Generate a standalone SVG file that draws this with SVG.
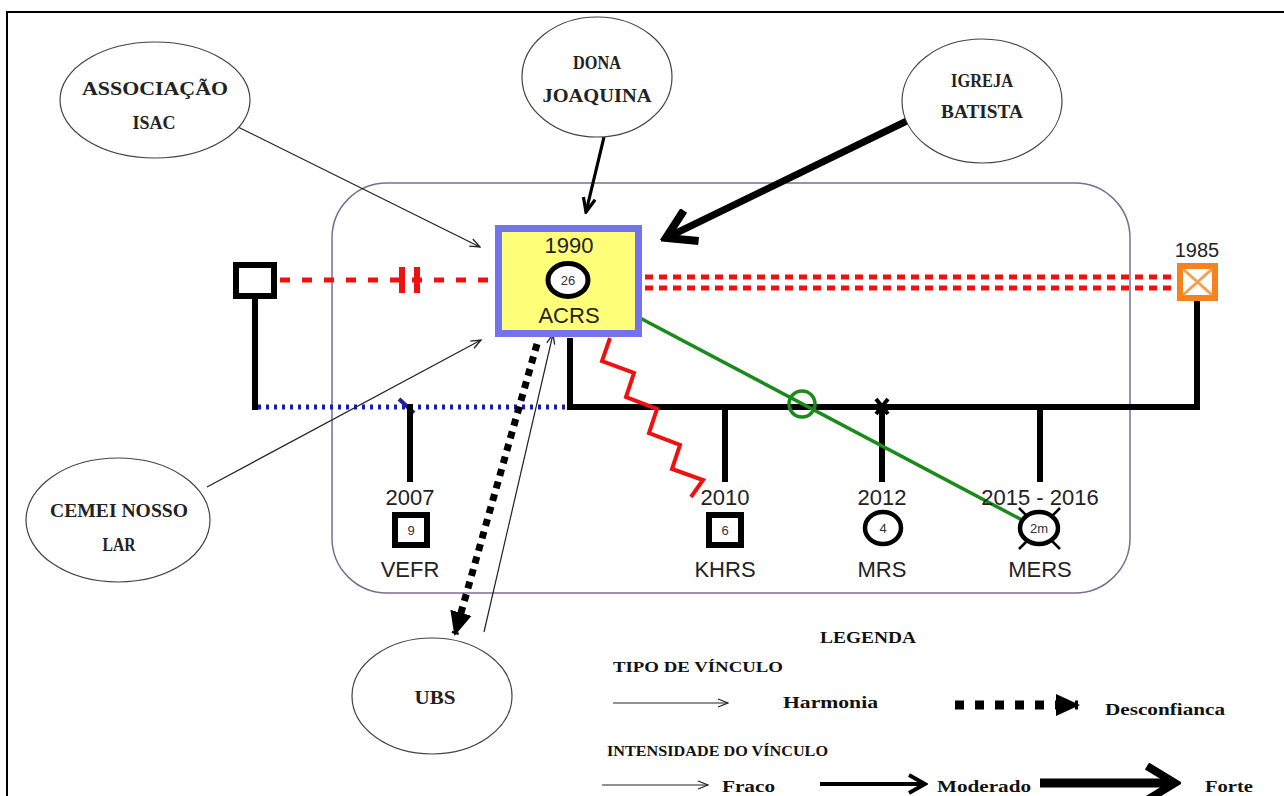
<svg xmlns="http://www.w3.org/2000/svg" width="1284" height="796" viewBox="0 0 1284 796">
<defs>
<style>
.ell{fill:#fff;stroke:#444;stroke-width:1.2}
.et{font-family:"Liberation Serif",serif;font-weight:bold;font-size:19px;fill:#222;text-anchor:middle}
.lt{font-family:"Liberation Serif",serif;font-weight:bold;font-size:17px;fill:#111}
.st{font-family:"Liberation Sans",sans-serif;font-size:22px;fill:#222;text-anchor:middle}
.sm{font-family:"Liberation Sans",sans-serif;font-size:13px;fill:#333;text-anchor:middle}
.blk{stroke:#000;stroke-width:6;fill:none}
.thin{stroke:#222;stroke-width:1.2;fill:none}
</style>
<marker id="chevThin" viewBox="0 0 12 10" refX="11" refY="5" markerWidth="12" markerHeight="10" markerUnits="userSpaceOnUse" orient="auto"><path d="M1,1 L11,5 L1,9" fill="none" stroke="#222" stroke-width="1.3"/></marker>
<marker id="chevMed" viewBox="0 0 18 16" refX="16" refY="8" markerWidth="18" markerHeight="16" markerUnits="userSpaceOnUse" orient="auto"><path d="M2,2 L16,8 L2,14" fill="none" stroke="#000" stroke-width="3.2"/></marker>
<marker id="chevLeg" viewBox="0 0 22 22" refX="19" refY="11" markerWidth="22" markerHeight="22" markerUnits="userSpaceOnUse" orient="auto"><path d="M3,2 L19,11 L3,20" fill="none" stroke="#000" stroke-width="4"/></marker>
<marker id="chevBig" viewBox="0 0 40 40" refX="34" refY="20" markerWidth="40" markerHeight="40" markerUnits="userSpaceOnUse" orient="auto"><path d="M6,3 L34,20 L6,37" fill="none" stroke="#000" stroke-width="8"/></marker>
<marker id="tri" viewBox="0 0 24 24" refX="22" refY="12" markerWidth="24" markerHeight="24" markerUnits="userSpaceOnUse" orient="auto"><path d="M0,1 L24,12 L0,23 Z" fill="#000"/></marker>
</defs>
<rect width="1284" height="796" fill="#fff"/>
<path d="M7,796 V12 H1284" fill="none" stroke="#000" stroke-width="2"/>

<g id="family-frame">
<rect x="332" y="183" width="798" height="410" rx="55" ry="55" fill="none" stroke="#7a6e96" stroke-width="1.5"/>
</g>

<g id="connectors">
<line x1="280" y1="280" x2="495" y2="280" stroke="#ee1111" stroke-width="5" stroke-dasharray="10 12"/>
<rect x="399" y="267" width="6" height="26" fill="#ee1111"/>
<rect x="414" y="267" width="6" height="26" fill="#ee1111"/>
<line x1="645" y1="277" x2="1177" y2="277" stroke="#ee1111" stroke-width="5" stroke-dasharray="8 6"/>
<line x1="645" y1="288" x2="1177" y2="288" stroke="#ee1111" stroke-width="5" stroke-dasharray="8 6"/>
<line x1="255" y1="298" x2="255" y2="410" class="blk"/>
<line x1="258" y1="407" x2="568" y2="407" stroke="#1c1ca8" stroke-width="5" stroke-dasharray="3 5"/>
<line x1="399" y1="399" x2="414" y2="413" stroke="#1c1ca8" stroke-width="4"/>
<path d="M570,338 V407 H1197 V300" class="blk"/>
<line x1="410" y1="404" x2="410" y2="482" class="blk"/>
<line x1="725" y1="404" x2="725" y2="482" class="blk"/>
<line x1="882" y1="404" x2="882" y2="482" class="blk"/>
<line x1="1040" y1="404" x2="1040" y2="482" class="blk"/>
<path d="M876,399 L888,414 M888,399 L876,414" stroke="#000" stroke-width="4"/>
<polyline points="610,338 602,361 634,373 626,397 657,409 649,433 680,445 672,469 703,480 691,497" fill="none" stroke="#ee1111" stroke-width="4"/>
<line x1="640" y1="318" x2="1022" y2="520" stroke="#1a8a1a" stroke-width="3.5"/>
<circle cx="802" cy="404" r="13" fill="none" stroke="#1a8a1a" stroke-width="3.5"/>
<line x1="238" y1="127" x2="480" y2="247" class="thin" marker-end="url(#chevThin)"/>
<line x1="604" y1="137" x2="586" y2="212" stroke="#000" stroke-width="3.2" marker-end="url(#chevMed)"/>
<line x1="915" y1="117" x2="666" y2="238" stroke="#000" stroke-width="7" marker-end="url(#chevBig)"/>
<line x1="207" y1="487" x2="481" y2="340" class="thin" marker-end="url(#chevThin)"/>
<line x1="537" y1="344" x2="455" y2="634" stroke="#000" stroke-width="7" stroke-dasharray="7 6" marker-end="url(#tri)"/>
<line x1="484" y1="632" x2="553" y2="334" class="thin" marker-end="url(#chevThin)"/>
</g>

<g id="node-left-square">
<rect x="236" y="265" width="38" height="31" fill="#fff" stroke="#000" stroke-width="6"/>
</g>

<g id="node-acrs">
<rect x="498.5" y="228.5" width="140" height="105" fill="#ffff7a" stroke="#7373ee" stroke-width="7"/>
<text x="569" y="253" class="st">1990</text>
<ellipse cx="568" cy="280" rx="20" ry="16.5" fill="#fff" stroke="#000" stroke-width="5"/>
<text x="568" y="285" class="sm">26</text>
<text x="569" y="323" class="st">ACRS</text>
</g>

<g id="node-1985">
<text x="1197" y="257" class="st" style="font-size:20px">1985</text>
<rect x="1180" y="266" width="35" height="32" fill="#fff" stroke="#f5821f" stroke-width="6"/>
<path d="M1183,269 L1212,295 M1212,269 L1183,295" stroke="#f5a050" stroke-width="3"/>
</g>

<g id="node-vefr">
<text x="410" y="505" class="st">2007</text>
<rect x="395" y="515" width="32" height="30" fill="#fff" stroke="#000" stroke-width="6"/>
<text x="411" y="535" class="sm">9</text>
<text x="410" y="577" class="st">VEFR</text>
</g>

<g id="node-khrs">
<text x="725" y="505" class="st">2010</text>
<rect x="709" y="515" width="32" height="30" fill="#fff" stroke="#000" stroke-width="6"/>
<text x="725" y="535" class="sm">6</text>
<text x="725" y="577" class="st">KHRS</text>
</g>

<g id="node-mrs">
<text x="882" y="505" class="st">2012</text>
<ellipse cx="883" cy="528" rx="18" ry="16" fill="#fff" stroke="#000" stroke-width="4.5"/>
<text x="883" y="533" class="sm">4</text>
<text x="882" y="577" class="st">MRS</text>
</g>

<g id="node-mers">
<text x="1040" y="505" class="st">2015 - 2016</text>
<path d="M1019,508 L1060,549 M1060,508 L1019,549" stroke="#000" stroke-width="2.5"/>
<ellipse cx="1039" cy="528" rx="19" ry="16" fill="#fff" stroke="#000" stroke-width="4.5"/>
<text x="1039" y="533" class="sm">2m</text>
<text x="1040" y="577" class="st">MERS</text>
</g>

<g id="node-isac">
<ellipse cx="155" cy="100" rx="95" ry="58" class="ell"/>
<text x="155" y="95" class="et" textLength="146" lengthAdjust="spacingAndGlyphs">ASSOCIAÇÃO</text>
<text x="154" y="129" class="et" textLength="43" lengthAdjust="spacingAndGlyphs">ISAC</text>
</g>

<g id="node-dona">
<ellipse cx="597" cy="77" rx="75" ry="60" class="ell"/>
<text x="597" y="69" class="et" textLength="48" lengthAdjust="spacingAndGlyphs">DONA</text>
<text x="597" y="102" class="et" textLength="109" lengthAdjust="spacingAndGlyphs">JOAQUINA</text>
</g>

<g id="node-igreja">
<ellipse cx="982" cy="101" rx="80" ry="62" class="ell"/>
<text x="982" y="87" class="et" textLength="62" lengthAdjust="spacingAndGlyphs">IGREJA</text>
<text x="982" y="118" class="et" textLength="82" lengthAdjust="spacingAndGlyphs">BATISTA</text>
</g>

<g id="node-cemei">
<ellipse cx="118" cy="520" rx="92" ry="62" class="ell"/>
<text x="119" y="517" class="et" textLength="138" lengthAdjust="spacingAndGlyphs">CEMEI NOSSO</text>
<text x="119" y="551" class="et" textLength="33" lengthAdjust="spacingAndGlyphs">LAR</text>
</g>

<g id="node-ubs">
<ellipse cx="432" cy="696" rx="80" ry="58" class="ell"/>
<text x="435" y="704" class="et" textLength="41" lengthAdjust="spacingAndGlyphs">UBS</text>
</g>

<g id="legend">
<text x="868" y="643" class="lt" text-anchor="middle" textLength="96" lengthAdjust="spacingAndGlyphs">LEGENDA</text>
<text x="613" y="672" class="lt" style="font-size:15px" textLength="170" lengthAdjust="spacingAndGlyphs">TIPO DE VÍNCULO</text>
<line x1="613" y1="703" x2="728" y2="703" class="thin" marker-end="url(#chevThin)"/>
<text x="783" y="708" class="lt" textLength="95" lengthAdjust="spacingAndGlyphs">Harmonia</text>
<line x1="955" y1="705" x2="1078" y2="705" stroke="#000" stroke-width="9" stroke-dasharray="9 11" marker-end="url(#tri)"/>
<text x="1105" y="715" class="lt" textLength="120" lengthAdjust="spacingAndGlyphs">Desconfianca</text>
<text x="607" y="756" class="lt" style="font-size:15px" textLength="221" lengthAdjust="spacingAndGlyphs">INTENSIDADE DO VÍNCULO</text>
<line x1="602" y1="785" x2="708" y2="785" class="thin" marker-end="url(#chevThin)"/>
<text x="722" y="792" class="lt" textLength="53" lengthAdjust="spacingAndGlyphs">Fraco</text>
<line x1="820" y1="784" x2="925" y2="784" stroke="#000" stroke-width="4" marker-end="url(#chevLeg)"/>
<text x="937" y="792" class="lt" textLength="94" lengthAdjust="spacingAndGlyphs">Moderado</text>
<line x1="1040" y1="783" x2="1175" y2="783" stroke="#000" stroke-width="9" marker-end="url(#chevBig)"/>
<text x="1205" y="792" class="lt" textLength="48" lengthAdjust="spacingAndGlyphs">Forte</text>
</g>
</svg>
